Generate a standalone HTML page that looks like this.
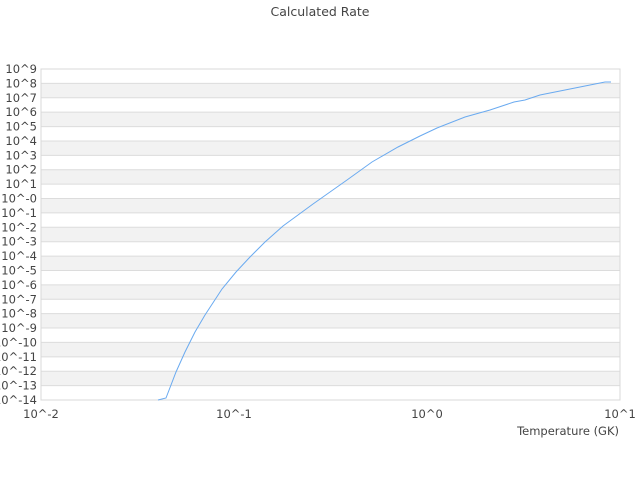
<!DOCTYPE html>
<html><head><meta charset="utf-8"><style>body{margin:0;background:#fff}svg{display:block}text{font-family:"DejaVu Sans","Liberation Sans",sans-serif;fill:#444}</style></head>
<body>
<svg width="640" height="480" xmlns="http://www.w3.org/2000/svg">
<text x="320" y="16" font-size="12.5" text-anchor="middle" fill="#333">Calculated Rate</text>
<g fill="#f2f2f2">
<rect x="41" y="83.39" width="579" height="14.39"/>
<rect x="41" y="112.17" width="579" height="14.39"/>
<rect x="41" y="140.96" width="579" height="14.39"/>
<rect x="41" y="169.74" width="579" height="14.39"/>
<rect x="41" y="198.52" width="579" height="14.39"/>
<rect x="41" y="227.30" width="579" height="14.39"/>
<rect x="41" y="256.09" width="579" height="14.39"/>
<rect x="41" y="284.87" width="579" height="14.39"/>
<rect x="41" y="313.65" width="579" height="14.39"/>
<rect x="41" y="342.43" width="579" height="14.39"/>
<rect x="41" y="371.22" width="579" height="14.39"/>
</g>
<g stroke="#dcdcdc">
<line x1="41" x2="620" y1="83.39" y2="83.39"/><line x1="41" x2="620" y1="97.78" y2="97.78"/>
<line x1="41" x2="620" y1="112.17" y2="112.17"/><line x1="41" x2="620" y1="126.57" y2="126.57"/>
<line x1="41" x2="620" y1="140.96" y2="140.96"/><line x1="41" x2="620" y1="155.35" y2="155.35"/>
<line x1="41" x2="620" y1="169.74" y2="169.74"/><line x1="41" x2="620" y1="184.13" y2="184.13"/>
<line x1="41" x2="620" y1="198.52" y2="198.52"/><line x1="41" x2="620" y1="212.91" y2="212.91"/>
<line x1="41" x2="620" y1="227.30" y2="227.30"/><line x1="41" x2="620" y1="241.70" y2="241.70"/>
<line x1="41" x2="620" y1="256.09" y2="256.09"/><line x1="41" x2="620" y1="270.48" y2="270.48"/>
<line x1="41" x2="620" y1="284.87" y2="284.87"/><line x1="41" x2="620" y1="299.26" y2="299.26"/>
<line x1="41" x2="620" y1="313.65" y2="313.65"/><line x1="41" x2="620" y1="328.04" y2="328.04"/>
<line x1="41" x2="620" y1="342.43" y2="342.43"/><line x1="41" x2="620" y1="356.83" y2="356.83"/>
<line x1="41" x2="620" y1="371.22" y2="371.22"/><line x1="41" x2="620" y1="385.61" y2="385.61"/>
</g>
<rect x="41" y="69" width="579" height="331" fill="none" stroke="#d8d8d8"/>
<g font-size="11.5" text-anchor="end">
<text x="37" y="73">10^9</text><text x="37" y="87.4">10^8</text><text x="37" y="101.8">10^7</text>
<text x="37" y="116.2">10^6</text><text x="37" y="130.6">10^5</text><text x="37" y="145">10^4</text>
<text x="37" y="159.4">10^3</text><text x="37" y="173.7">10^2</text><text x="37" y="188.1">10^1</text>
<text x="37" y="202.5">10^-0</text><text x="37" y="216.9">10^-1</text><text x="37" y="231.3">10^-2</text>
<text x="37" y="245.7">10^-3</text><text x="37" y="260.1">10^-4</text><text x="37" y="274.5">10^-5</text>
<text x="37" y="288.9">10^-6</text><text x="37" y="303.3">10^-7</text><text x="37" y="317.7">10^-8</text>
<text x="37" y="332">10^-9</text><text x="37" y="346.4">10^-10</text><text x="37" y="360.8">10^-11</text>
<text x="37" y="375.2">10^-12</text><text x="37" y="389.6">10^-13</text><text x="37" y="404">10^-14</text>
</g>
<polyline fill="none" stroke="#6aaaf0" stroke-width="1" points="158,400 166,398 176,372 185,352 195,332 205,315 222,289 236,272 250,257 265,242 283,226 298,215 313,204 330,192 347,180 372,162 398,147 420,136 437,128 465,117 490,110 514,102 525,100 540,95 560,91 590,85 605,82 611,82"/>
<text x="41" y="418" font-size="11.5" text-anchor="middle">10^-2</text>
<text x="234" y="418" font-size="11.5" text-anchor="middle">10^-1</text>
<text x="427" y="418" font-size="11.5" text-anchor="middle">10^0</text>
<text x="620" y="418" font-size="11.5" text-anchor="middle">10^1</text>
<text x="619" y="435" font-size="11.5" text-anchor="end">Temperature (GK)</text>
</svg>
</body></html>
